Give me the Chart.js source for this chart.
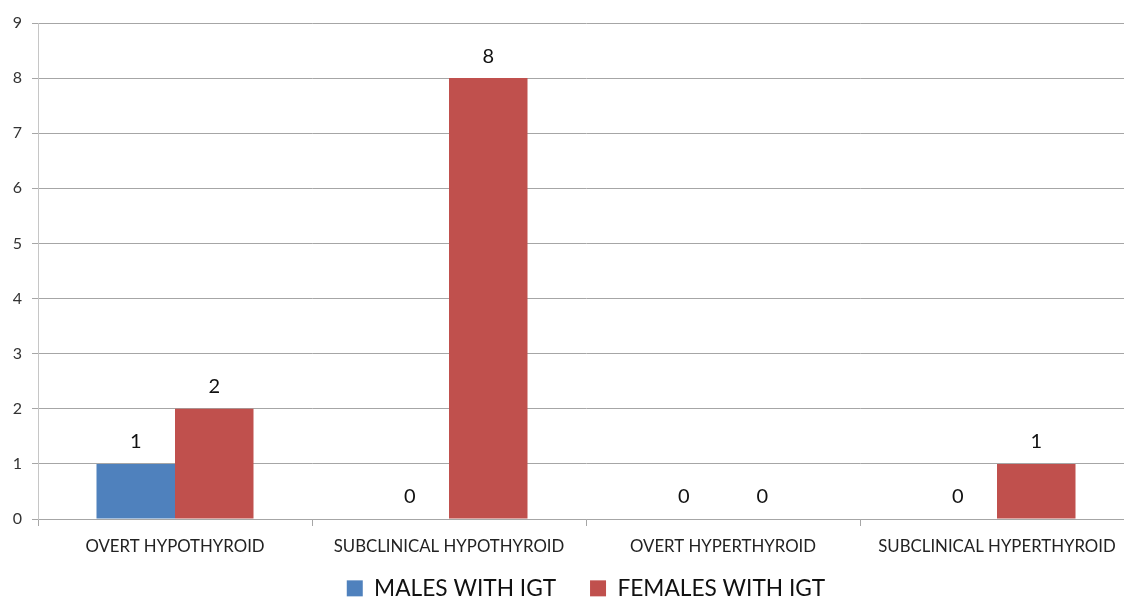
<!DOCTYPE html>
<html>
<head>
<meta charset="utf-8">
<script src="https://cdn.jsdelivr.net/npm/chart.js@4/dist/chart.umd.min.js"></script>
<style>
  html, body { margin: 0; padding: 0; overflow: hidden; background: #fff; }
  #wrap { width: 1136px; height: 598px; }
</style>
</head>
<body>
<div id="wrap"><canvas id="c" width="1136" height="598"></canvas></div>
<script>
// Thyroid status counts among subjects with impaired glucose tolerance
const categories = ['OVERT HYPOTHYROID', 'SUBCLINICAL HYPOTHYROID', 'OVERT HYPERTHYROID', 'SUBCLINICAL HYPERTHYROID'];
const malesIGT = [1, 0, 0, 0];
const femalesIGT = [2, 8, 0, 1];
const seriesNames = ['MALES WITH IGT', 'FEMALES WITH IGT'];
const yMax = 9;

const FONT = 'Lato, "Open Sans", sans-serif';
const LEGEND_HEIGHT = 55;

// Writes each bar's value just above its top edge
const valueLabels = {
  id: 'valueLabels',
  afterDatasetsDraw(chart) {
    const ctx = chart.ctx;
    ctx.save();
    ctx.font = '20px ' + FONT;
    ctx.fillStyle = '#111';
    ctx.textAlign = 'center';
    ctx.textBaseline = 'middle';
    chart.data.datasets.forEach((ds, di) => {
      chart.getDatasetMeta(di).data.forEach((bar, i) => {
        ctx.fillText(String(ds.data[i]), bar.x, bar.y - 22);
      });
    });
    ctx.restore();
  }
};

// Keeps the legend band at a fixed height so its wide item spacing
// does not eat into the plot area, and lets the category labels
// run past the short x-axis band without being clipped
const legendBand = {
  id: 'legendBand',
  afterInit(chart) {
    const legend = chart.legend;
    if (!legend) return;
    const fit = legend.fit;
    legend.fit = function () {
      fit.call(this);
      this.height = LEGEND_HEIGHT;
    };
  },
  afterUpdate(chart) {
    const x = chart.scales.x;
    if (x) x._computeLabelArea = () => undefined;
  }
};

new Chart(document.getElementById('c'), {
  type: 'bar',
  data: {
    labels: categories,
    datasets: [
      { label: seriesNames[0], data: malesIGT, backgroundColor: '#4F81BD', borderWidth: 0 },
      { label: seriesNames[1], data: femalesIGT, backgroundColor: '#C0504D', borderWidth: 0 }
    ]
  },
  options: {
    responsive: false,
    animation: false,
    layout: { padding: { top: 23, right: 2, left: 0, bottom: 0 } },
    datasets: { bar: { categoryPercentage: 0.573, barPercentage: 1.0 } },
    plugins: {
      legend: {
        position: 'bottom',
        fullSize: false,
        labels: {
          boxWidth: 16, boxHeight: 16, padding: 34,
          color: '#111',
          font: { family: FONT, size: 22.7 }
        }
      },
      tooltip: { enabled: false }
    },
    scales: {
      x: {
        grid: { display: true, drawOnChartArea: false, drawTicks: true, tickLength: 7, color: '#a6a6a6', offset: true },
        border: { display: true, color: '#a6a6a6', width: 1 },
        ticks: { color: '#222', font: { family: FONT, size: 16.8 }, padding: 11, maxRotation: 0, autoSkip: false },
        afterFit(scale) { scale.height = 24; }
      },
      y: {
        min: 0, max: yMax,
        grid: { color: '#a6a6a6', tickLength: 6 },
        border: { display: true, color: '#c6c6c6', width: 1 },
        ticks: { stepSize: 1, color: '#333', font: { family: FONT, size: 16 }, padding: 10 },
        afterFit(scale) { scale.width = 38; }
      }
    }
  },
  plugins: [valueLabels, legendBand]
});
</script>
</body>
</html>
